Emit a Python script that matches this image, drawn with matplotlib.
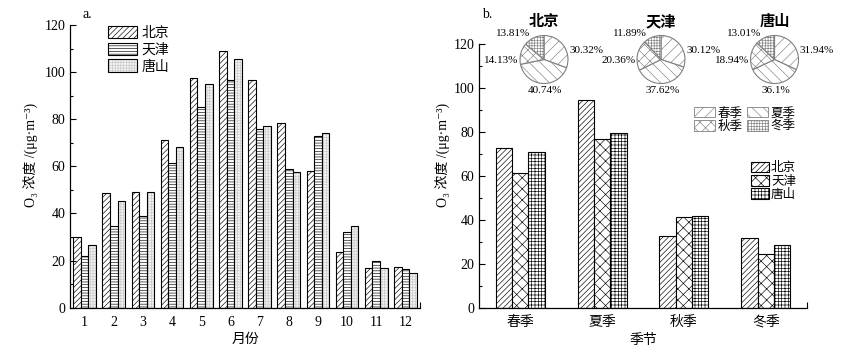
import matplotlib
matplotlib.use("Agg")
import matplotlib.pyplot as plt
import numpy as np
from matplotlib.patches import Patch

plt.rcParams['font.family'] = ['Liberation Serif', 'Noto Sans CJK SC', 'DejaVu Serif']
plt.rcParams['hatch.linewidth'] = 0.45
plt.rcParams['axes.linewidth'] = 0.9

# monthly mean O3 (panel a)
months = [1, 2, 3, 4, 5, 6, 7, 8, 9, 10, 11, 12]
beijing_m = [30, 48.8, 49.2, 71.2, 97.4, 109.1, 96.5, 78.4, 57.9, 23.6, 16.8, 17.2]
tianjin_m = [22, 34.6, 38.9, 61.4, 85, 96.5, 76, 58.7, 72.9, 32.2, 20, 16.3]
tangshan_m = [26.5, 45.4, 49, 68.4, 95, 105.5, 77, 57.6, 74.3, 34.5, 17, 14.6]

# seasonal mean O3 (panel b)
seasons = ['春季', '夏季', '秋季', '冬季']
beijing_s = [72.6, 94.5, 32.8, 31.7]
tianjin_s = [61.2, 76.8, 41.4, 24.2]
tangshan_s = [70.6, 79.5, 41.9, 28.7]

# seasonal share (%) for the pies
cities = ['北京', '天津', '唐山']
pie_share = {
    '北京': [30.32, 40.74, 14.13, 13.81],
    '天津': [30.12, 37.62, 20.36, 11.89],
    '唐山': [31.94, 36.1, 18.94, 13.01],
}
pie_labels = {
    '北京': ['30.32%', '40.74%', '14.13%', '13.81%'],
    '天津': ['30.12%', '37.62%', '20.36%', '11.89%'],
    '唐山': ['31.94%', '36.1%', '18.94%', '13.01%'],
}
# where the percentage labels sit, in pie radii from the centre (spring, summer, autumn, winter)
label_offsets = [(1.77, 0.37), (0.05, -1.29), (-1.78, -0.04), (-1.28, 1.09)]

W, H = 846, 356
ylab = 'O₃ 浓度 /(μg·m⁻³)'


def fx(px):
    return px / W


def fy(py):
    return 1 - py / H


def style_axis(ax, xmax):
    ax.spines['top'].set_visible(False)
    ax.spines['right'].set_visible(False)
    ax.set_ylim(0, 120)
    ax.set_yticks(np.arange(0, 121, 20))
    ax.set_yticks(np.arange(10, 120, 20), minor=True)
    ax.tick_params(axis='y', which='major', direction='in', length=4, width=0.8, pad=3.5, labelsize=10)
    ax.tick_params(axis='y', which='minor', direction='in', length=2, width=0.8)
    ax.set_xticks([xmax], minor=True)
    ax.tick_params(axis='x', which='major', length=0, pad=6, labelsize=10)
    ax.tick_params(axis='x', which='minor', direction='in', length=4, width=0.8)


fig = plt.figure(figsize=(W / 100, H / 100), dpi=100)

# ---- panel a
ax1 = fig.add_axes([fx(70), fy(307.7), fx(350), 282.7 / H])
w = 0.26
x = np.array(months)
ax1.bar(x - w, beijing_m, w, facecolor='white', edgecolor='k', linewidth=0.8, hatch='//////')
ax1.bar(x, tianjin_m, w, facecolor='white', edgecolor='k', linewidth=0.8, hatch='------')
ax1.bar(x + w, tangshan_m, w, facecolor='#f3f3f3', edgecolor='#c8c8c8', linewidth=0, hatch='++++++')
ax1.bar(x + w, tangshan_m, w, fill=False, edgecolor='k', linewidth=0.8)
ax1.set_xlim(0.5, 12.5)
style_axis(ax1, 12.5)
ax1.set_xticks(months)
ax1.set_xlabel('月份', fontsize=10, labelpad=3)
ax1.set_ylabel(ylab, fontsize=10)
ax1.yaxis.set_label_coords(-0.089, 0.54)

h_bj = Patch(facecolor='white', edgecolor='k', linewidth=0.8, hatch='//////')
h_tj = Patch(facecolor='white', edgecolor='k', linewidth=0.8, hatch='------')
h_ts = (Patch(facecolor='#f3f3f3', edgecolor='#c8c8c8', linewidth=0, hatch='++++++'),
        Patch(fill=False, edgecolor='k', linewidth=0.8))
fig.legend([h_bj, h_tj, h_ts], cities, loc='upper left', bbox_to_anchor=(fx(108), fy(26)),
           frameon=False, fontsize=10, handlelength=2.1, handleheight=1.0, labelspacing=0.2,
           handletextpad=0.3, borderpad=0, borderaxespad=0)
fig.text(fx(87), fy(14), 'a.', fontsize=10, ha='center', va='center')

# ---- panel b
ax2 = fig.add_axes([fx(479.3), fy(307.7), fx(327.4), 264 / H])
ws = 0.2
xs = np.arange(len(seasons))
ax2.bar(xs - ws, beijing_s, ws, facecolor='white', edgecolor='k', linewidth=0.8, hatch='//////')
ax2.bar(xs, tianjin_s, ws, facecolor='white', edgecolor='k', linewidth=0.8, hatch='xxx')
ax2.bar(xs + ws, tangshan_s, ws, facecolor='white', edgecolor='k', linewidth=0.8, hatch='+++++')
ax2.set_xlim(-0.5, 3.5)
style_axis(ax2, 3.5)
ax2.set_xticks(xs)
ax2.set_xticklabels(seasons)
ax2.set_xlabel('季节', fontsize=10, labelpad=3)
ax2.set_ylabel(ylab, fontsize=10)
ax2.yaxis.set_label_coords(-0.086, 0.58)

hb = [Patch(facecolor='white', edgecolor='k', linewidth=0.8, hatch='//////'),
      Patch(facecolor='white', edgecolor='k', linewidth=0.8, hatch='xxx'),
      Patch(facecolor='white', edgecolor='k', linewidth=0.8, hatch='+++++')]
fig.legend(hb, cities, loc='upper left', bbox_to_anchor=(fx(751), fy(162)),
           frameon=False, fontsize=9, handlelength=1.4, handleheight=0.9, labelspacing=0.05,
           handletextpad=0.2, borderpad=0, borderaxespad=0)
fig.text(fx(487), fy(15), 'b.', fontsize=10, ha='center', va='center')

# ---- pies
pie_hatch = ['///', '\\\\\\', 'xxx', '++++++']
pie_edge = '#808080'
pie_cx = [544, 661, 774.5]
pie_cy = 59.5
r = 24
for city, cx in zip(cities, pie_cx):
    pa = fig.add_axes([fx(cx - r), fy(pie_cy + r), 2 * r / W, 2 * r / H])
    wedges, _ = pa.pie(pie_share[city], startangle=90, counterclock=False,
                       wedgeprops=dict(facecolor='white', edgecolor=pie_edge, linewidth=0.8))
    for wd, hh in zip(wedges, pie_hatch):
        wd.set_hatch(hh)
    for lab, (dx, dy) in zip(pie_labels[city], label_offsets):
        pa.text(dx, dy, lab, fontsize=8, ha='center', va='center', clip_on=False)
    pa.set_xlim(-1, 1)
    pa.set_ylim(-1, 1)
    fig.text(fx(cx), fy(21), city, fontsize=11, fontweight='bold', ha='center', va='center',
             family=['Noto Sans CJK SC'])

hp = [Patch(facecolor='white', edgecolor=pie_edge, linewidth=0.6, hatch=h) for h in pie_hatch]
# order for 2 columns: row1 春 夏, row2 秋 冬
fig.legend([hp[0], hp[2], hp[1], hp[3]], [seasons[0], seasons[2], seasons[1], seasons[3]],
           ncol=2, loc='upper left', bbox_to_anchor=(fx(694), fy(107)),
           frameon=False, fontsize=9, handlelength=1.7, handleheight=0.9, labelspacing=0.05,
           handletextpad=0.2, columnspacing=0.3, borderpad=0, borderaxespad=0)

fig.savefig('out.png', dpi=100)
